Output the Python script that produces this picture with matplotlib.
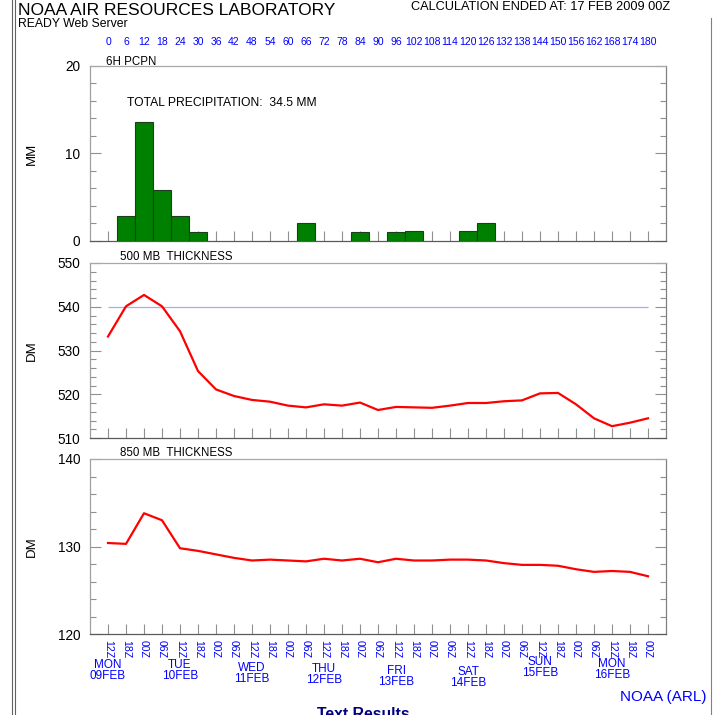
import matplotlib
matplotlib.use("Agg")
import matplotlib.pyplot as plt
import matplotlib.transforms as mtransforms
from matplotlib.lines import Line2D
from matplotlib.ticker import MultipleLocator

plt.rcParams['font.family'] = ['Liberation Sans', 'DejaVu Sans']

# forecast hours (0 = 12Z MON 09FEB)
hours = list(range(0, 181, 6))

# 6h precipitation (mm)
pcpn_hours = [6, 12, 18, 24, 30, 66, 84, 96, 102, 120, 126]
pcpn_mm = [2.9, 13.6, 5.8, 2.9, 1.0, 2.0, 1.0, 1.0, 1.1, 1.1, 2.1]

# 500 mb thickness (dm)
thick500 = [533.2, 540.1, 542.7, 540.1, 534.4, 525.3, 521.1, 519.6, 518.7, 518.3,
            517.4, 517.0, 517.7, 517.4, 518.1, 516.4, 517.1, 517.0, 516.9, 517.4,
            518.0, 518.0, 518.4, 518.6, 520.2, 520.3, 517.7, 514.5, 512.7, 513.5,
            514.5]
ref500 = 540

# 850 mb thickness (dm)
thick850 = [130.4, 130.3, 133.8, 133.0, 129.8, 129.5, 129.1, 128.7, 128.4, 128.5,
            128.4, 128.3, 128.6, 128.4, 128.6, 128.2, 128.6, 128.4, 128.4, 128.5,
            128.5, 128.4, 128.1, 127.9, 127.9, 127.8, 127.4, 127.1, 127.2, 127.1,
            126.6]

day_hours = [0, 24, 48, 72, 96, 120, 144, 168]
day_names = ['MON', 'TUE', 'WED', 'THU', 'FRI', 'SAT', 'SUN', 'MON']
day_dates = ['09FEB', '10FEB', '11FEB', '12FEB', '13FEB', '14FEB', '15FEB', '16FEB']

W, H = 713, 715
BLUE = '#0000ff'


def box(x0, y0, x1, y1):
    # pixel box (top-left origin) -> figure fraction
    return [x0 / W, 1 - y1 / H, (x1 - x0) / W, (y1 - y0) / H]


def fy(ypx):
    return 1 - ypx / H


def style(ax, ylim, major, label):
    ax.set_xlim(-6, 186)
    ax.set_ylim(*ylim)
    ax.set_xticks(hours)
    ax.yaxis.set_major_locator(MultipleLocator(major))
    ax.yaxis.set_minor_locator(MultipleLocator(2))
    ax.tick_params(axis='both', which='both', direction='in', color='#909090', width=0.8)
    ax.tick_params(axis='x', length=7.2, labelbottom=False, bottom=True, top=False)
    ax.tick_params(axis='y', which='major', length=7.8, left=True, right=True,
                   labelsize=9.8, pad=7, labelcolor='black')
    ax.tick_params(axis='y', which='minor', length=4.2, left=True, right=True)
    ax.spines['left'].set_color('#a0a0a0')
    ax.spines['top'].set_color('#a8a8a8')
    ax.spines['bottom'].set_color('#5a5a5a')
    ax.spines['right'].set_color('#808080')
    for s in ax.spines.values():
        s.set_linewidth(0.9)
    ax.set_ylabel(label, fontsize=9.5)
    ax.yaxis.set_label_coords(-0.09, 0.5)


fig = plt.figure(figsize=(W / 100, H / 100), dpi=100)

# precipitation panel
ax_p = fig.add_axes(box(90, 66, 666, 241))
style(ax_p, (0, 20), 10, 'MM')
ax_p.bar(pcpn_hours, pcpn_mm, width=6, color='#008000', edgecolor='#1e3d1e',
         linewidth=0.8, zorder=3)
ax_p.text(-0.5, 0.99, '6H PCPN', transform=ax_p.get_xaxis_transform(),
          fontsize=8.3, va='bottom', ha='left')
ax_p.text(0.065, 0.79, 'TOTAL PRECIPITATION:  %.1f MM' % sum(pcpn_mm),
          transform=ax_p.transAxes, fontsize=8.7, va='center', ha='left')

top = ax_p.secondary_xaxis('top')
top.set_xticks(hours)
top.set_xticklabels([str(h) for h in hours])
top.tick_params(length=0, pad=14, labelsize=7.5, labelcolor=BLUE)
top.spines['top'].set_visible(False)

# 500 mb thickness
ax_5 = fig.add_axes(box(90, 263, 666, 438))
style(ax_5, (510, 550), 10, 'DM')
ax_5.hlines(ref500, hours[0], hours[-1], color='#a8a8ff', lw=0.9)
ax_5.plot(hours, thick500, color='#ff0000', lw=1.6)
ax_5.text(4, 1.0, '500 MB  THICKNESS', transform=ax_5.get_xaxis_transform(),
          fontsize=8.3, va='bottom', ha='left')

# 850 mb thickness
ax_8 = fig.add_axes(box(90, 459, 666, 634))
style(ax_8, (120, 140), 10, 'DM')
ax_8.plot(hours, thick850, color='#ff0000', lw=1.6)
ax_8.text(4, 1.0, '850 MB  THICKNESS', transform=ax_8.get_xaxis_transform(),
          fontsize=8.3, va='bottom', ha='left')
ax_8.tick_params(axis='x', labelbottom=True, labelsize=7.6, labelcolor=BLUE,
                 labelrotation=-90, pad=4)
ax_8.set_xticklabels(['%02dZ' % ((12 + h) % 24) for h in hours])
for lab in ax_8.get_xticklabels():
    lab.set_va('top')
    lab.set_ha('center')

# day / date labels under the time axis
day_y = [665, 665, 668, 669, 671, 672, 662, 664]
trans = mtransforms.blended_transform_factory(ax_8.transData, fig.transFigure)
for h, name, date, yp in zip(day_hours, day_names, day_dates, day_y):
    fig.text(h, fy(yp), name, transform=trans, color=BLUE, fontsize=8.5,
             ha='center', va='center')
    fig.text(h, fy(yp + 11), date, transform=trans, color=BLUE, fontsize=8.5,
             ha='center', va='center')

# header / footer texts
fig.text(18 / W, fy(3), 'NOAA AIR RESOURCES LABORATORY', fontsize=12.5,
         ha='left', va='top')
fig.text(18 / W, fy(18), 'READY Web Server', fontsize=8.8, ha='left', va='top')
fig.text(670 / W, fy(1.5), 'CALCULATION ENDED AT: 17 FEB 2009 00Z', fontsize=9.2,
         ha='right', va='top')
fig.text(707 / W, fy(697.5), 'NOAA (ARL)', fontsize=11, color=BLUE,
         ha='right', va='center')
fig.text(363 / W, fy(707), 'Text Results', fontsize=11.3, color='#000080',
         fontweight='bold', ha='center', va='top')

# page frame lines
for xp in (12, 15):
    fig.add_artist(Line2D([xp / W, xp / W], [0, 1], color='#606060', lw=0.8,
                          transform=fig.transFigure))
fig.add_artist(Line2D([711 / W, 711 / W], [0, fy(18)], color='#808080', lw=0.8,
                      transform=fig.transFigure))

fig.savefig('out.png', dpi=100)
